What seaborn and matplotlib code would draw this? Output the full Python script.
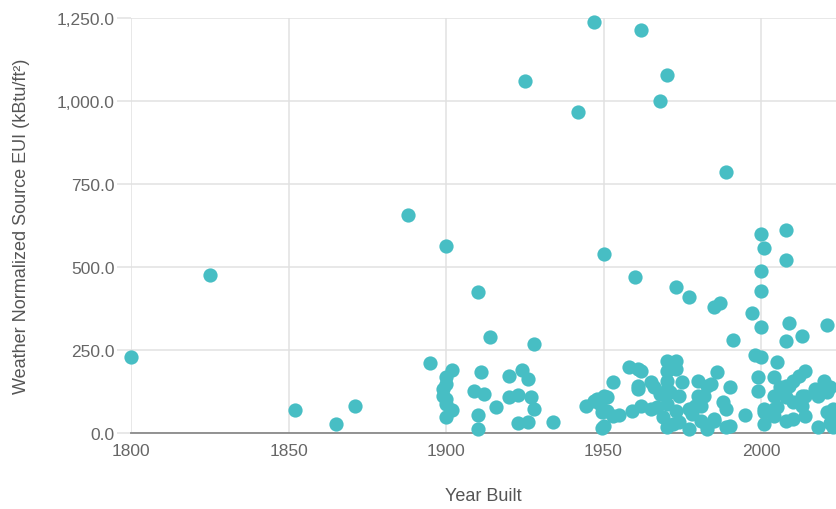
import numpy as np
import pandas as pd
import matplotlib
matplotlib.use("Agg")
import matplotlib.pyplot as plt
import matplotlib.ticker as mticker
import seaborn as sns

# year built / weather normalized source EUI
year_built = [
    1800, 1825, 1852, 1865, 1871, 1888, 1895, 1900, 1910, 1914, 1925, 1928,
    1942, 1947, 1950, 1962, 1960, 1970, 1968, 1989, 1973, 1977, 1985, 1987,
    1997, 2000, 2001, 2008, 2008, 2000, 2000, 2000, 2009, 2013, 2008, 2021, 1991,
    # 1895-1935
    1902, 1900, 1911, 1920, 1924, 1926, 1899, 1899, 1909, 1912, 1920, 1923,
    1927, 1900, 1902, 1900, 1916, 1928, 1910, 1910, 1923, 1926, 1934, 1900, 1900,
    # 1945-1955
    1944.5, 1947, 1948, 1950, 1951, 1953, 1951, 1949.5, 1953, 1955, 1949.5, 1950, 1949,
    # 1955-1995
    1958, 1961, 1962, 1961, 1961, 1959, 1962, 1965, 1967, 1965, 1966, 1970,
    1973, 1970, 1973, 1970, 1970, 1971, 1970, 1970, 1974, 1973, 1975, 1977,
    1974, 1977, 1980, 1980, 1979, 1981, 1983, 1983, 1985, 1986, 1984, 1990,
    1982, 1988, 1981, 1989, 1983, 1990, 1985, 1989, 1968, 1969, 1972, 1978,
    # 1995-2023
    1995, 1998, 2000, 2005, 1999, 2004, 1999, 2001, 2001, 2001, 2004, 2004,
    2004, 2005, 2006, 2008, 2008, 2008, 2009, 2010, 2010, 2010, 2012, 2013,
    2013, 2014, 2014, 2014, 2017, 2018, 2018, 2020, 2021, 2021, 2022, 2023,
    2023, 2022, 2023,
]
source_eui = [
    229, 476, 69, 27, 81, 657, 211, 563, 425, 289, 1060, 268,
    967, 1238, 539, 1214, 470, 1078, 1000, 786, 440, 410, 380, 392,
    361, 600, 557, 611, 521, 489, 428, 319, 331, 292, 277, 325, 280,
    190, 169, 184, 172, 190, 163, 133, 111, 127, 117, 108, 114,
    108, 87, 69, 48, 78, 72, 54, 12, 30, 33, 33, 102, 148,
    81, 96, 102, 111, 108, 154, 66, 63, 51, 54, 15, 21, 87,
    199, 193, 187, 142, 133, 66, 81, 72, 78, 154, 139, 217,
    217, 187, 193, 157, 133, 123, 87, 18, 111, 66, 154, 72,
    33, 12, 157, 111, 81, 36, 12, 142, 36, 184, 148, 139,
    111, 93, 81, 72, 21, 21, 42, 18, 117, 48, 27, 57,
    54, 235, 229, 214, 169, 169, 127, 72, 63, 27, 111, 72,
    51, 78, 139, 142, 108, 36, 142, 157, 93, 42, 172, 111,
    81, 187, 111, 51, 133, 111, 18, 157, 123, 63, 139, 42,
    18, 30, 72,
]

y_ticks = [0, 250, 500, 750, 1000, 1250]
x_ticks = [1800, 1850, 1900, 1950, 2000]

df = pd.DataFrame({"Year Built": year_built, "EUI": source_eui})

sns.set_theme(style="white")
plt.rcParams['font.family'] = ['Liberation Sans', 'DejaVu Sans']

fig = plt.figure(figsize=(8.36, 5.10), dpi=100)
ax = fig.add_axes([131 / 836, 76 / 510, 1 - 131 / 836, 415 / 510])

sns.scatterplot(data=df, x="Year Built", y="EUI", ax=ax, color="#47BEC4",
                s=105, linewidth=0, alpha=1, clip_on=False, zorder=3)

ax.set_xlim(1800, 2023.8)
ax.set_ylim(0, 1250)
ax.set_xticks(x_ticks)
ax.set_yticks(y_ticks)
ax.yaxis.set_major_formatter(mticker.FuncFormatter(lambda v, p: f"{v:,.1f}"))

ax.grid(True, color="#e1e1e1", linewidth=1.1)
ax.set_axisbelow(True)
for side in ["top", "right", "left"]:
    ax.spines[side].set_visible(False)
ax.spines["bottom"].set_color("#8a8a8a")
ax.spines["bottom"].set_linewidth(1.3)
ax.spines["bottom"].set_zorder(2)

ax.tick_params(axis="y", length=10, width=1.1, color="#e1e1e1", labelsize=12.5,
               labelcolor="#666666", pad=2, left=True)
ax.tick_params(axis="x", length=0, labelsize=12.5, labelcolor="#666666", pad=7)
ax.yaxis.get_major_ticks()[0].tick1line.set_color("#8a8a8a")

ax.set_xlabel("Year Built", fontsize=13, color="#555555", labelpad=21)
ax.set_ylabel("Weather Normalized Source EUI (kBtu/ft²)", fontsize=13,
              color="#555555", labelpad=19)

fig.savefig("out.png", dpi=100)
